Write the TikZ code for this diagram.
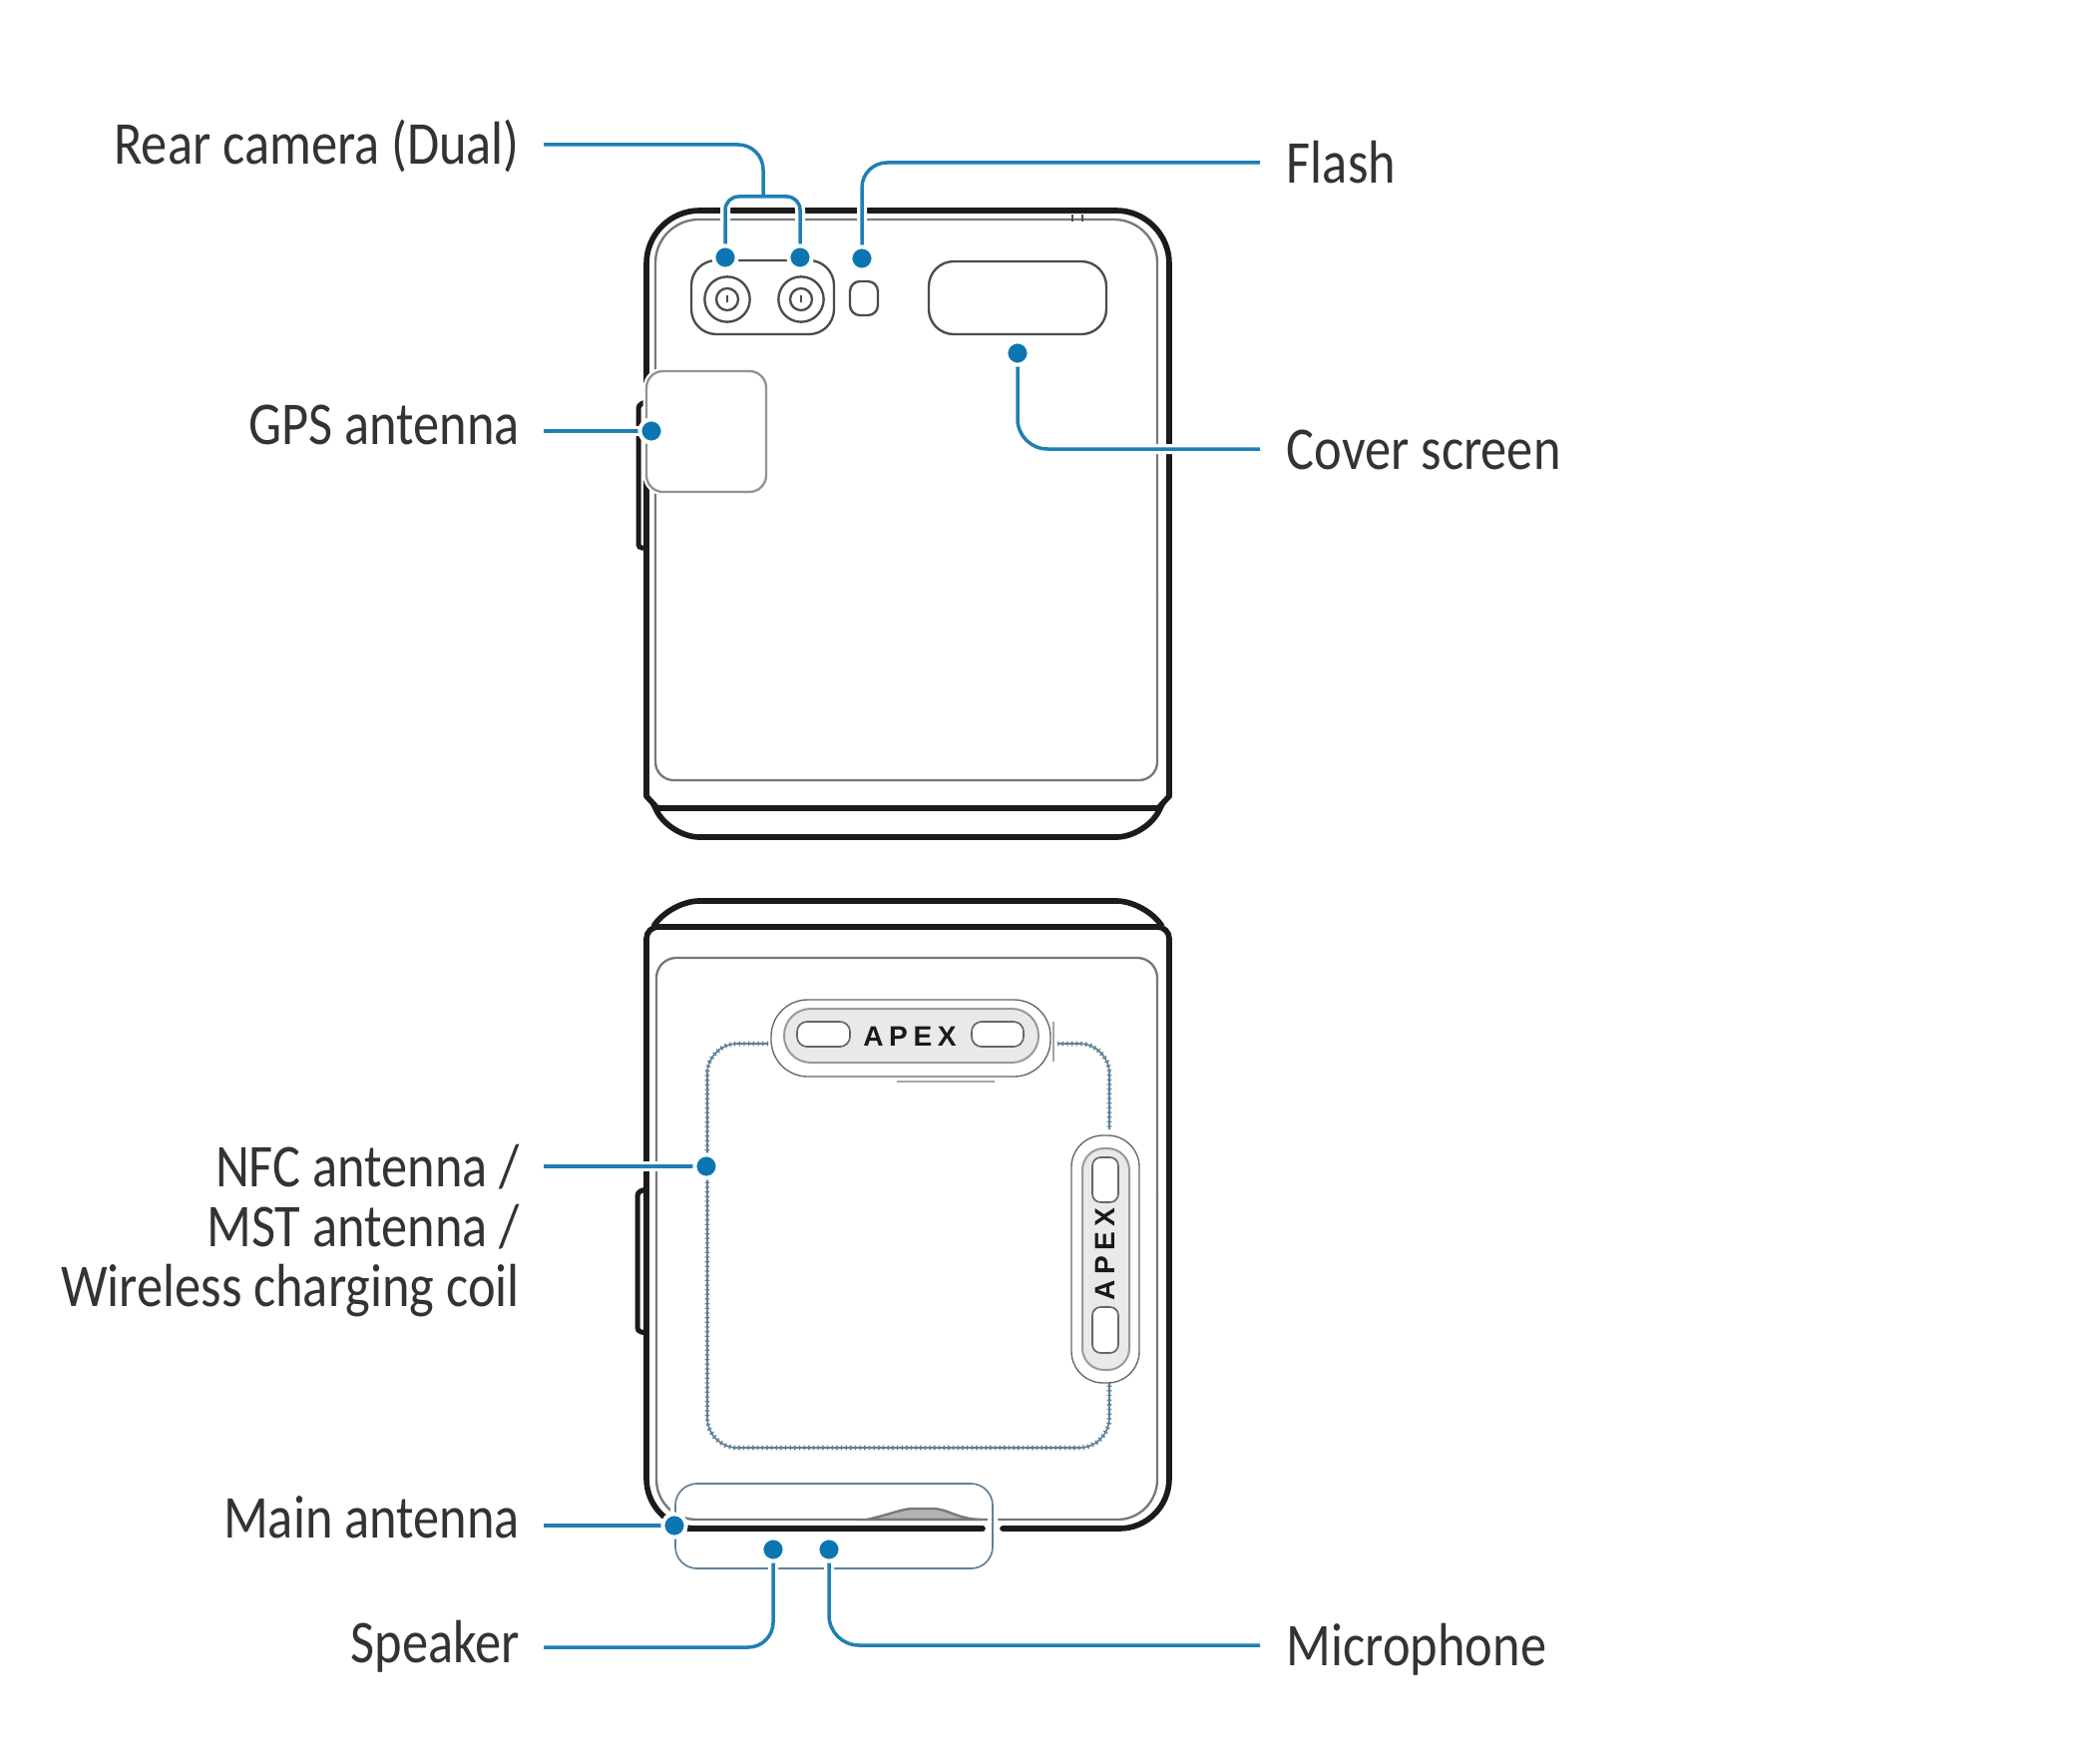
\documentclass[tikz,border=0pt]{standalone}
\usepackage{fontspec}
\setmainfont[FakeStretch=0.86]{Carlito}
\newfontfamily\logofont[LetterSpace=20]{Liberation Sans}
\definecolor{ledblue}{HTML}{1F7FB3}
\definecolor{dotblue}{HTML}{0B76B2}
\definecolor{inkdark}{HTML}{1E1A1C}
\definecolor{inkgrey}{HTML}{77787A}
\definecolor{coilblue}{HTML}{5F8098}
\definecolor{pillgrey}{HTML}{E9E9E9}
\pgfdeclarelayer{dots}
\pgfsetlayers{main,dots}
\tikzset{
lbl/.style={text=black!80,font=\fontsize{52}{60}\selectfont,text height=1.2cm,text depth=0pt,inner ysep=0pt,inner xsep=0.8cm},
lblr/.style={lbl,anchor=west},
lbll/.style={lbl,anchor=east},
leader/.style={draw=ledblue,line width=0.105cm,preaction={draw=white,line width=0.3cm}},
dot/.style={circle,fill=dotblue,draw=white,line width=0.12cm,minimum size=0.7cm,inner sep=0pt},
shell/.style={draw=inkdark,line width=0.17cm,line cap=round},
trim/.style={draw=inkgrey,line width=0.07cm},
part/.style={draw=black!70,line width=0.07cm},
coil/.style={draw=coilblue,line width=0.05cm,preaction={draw=coilblue,line width=0.14cm,dash pattern=on 0.04cm off 0.1cm}},
logo/.style={font=\logofont\bfseries\fontsize{24}{24}\selectfont,text=black!90,inner sep=0pt}
}
\begin{document}
\begin{tikzpicture}[x=0.03cm,y=-0.03cm]
\useasboundingbox(0,0)rectangle(2088,1768);
\draw[shell,rounded corners=1.6cm](648,798)|-(1172,211)--(1172,798);
\draw[shell](648,798)--(659,810)--(1161,810)--(1172,798);
\draw[shell,rounded corners=0.9cm](655,806)--(671,839)--(1149,839)--(1165,806);
\draw[trim,rounded corners=1.3cm](657,600)--(657,220)--(1160,220)--(1160,600);
\draw[trim,rounded corners=0.55cm](657,600)--(657,782)--(1160,782)--(1160,600);
\draw[draw=black!70,line width=0.04cm](1075,215)--(1075,222)(1085,215)--(1085,222);
\draw[shell,line width=0.15cm,rounded corners=0.1cm](647,403)--(640,406)--(640,549)--(647,549);
\draw[part,fill=white,rounded corners=0.75cm](693,261)rectangle(836,335);
\foreach \cx in {729,803}{
\draw[part](\cx,300)circle(0.68cm);
\draw[part](\cx,300)circle(0.33cm);
\draw[part,line width=0.05cm](\cx,296)--(\cx,303);
}
\draw[part,rounded corners=0.3cm](852,282)rectangle(880,316);
\draw[part,rounded corners=0.75cm](931,262)rectangle(1109,335);
\draw[draw=inkgrey!80,line width=0.07cm,fill=white,preaction={draw=white,line width=0.2cm},rounded corners=0.5cm](648,372)rectangle(768,493);
\draw[shell,rounded corners=0.35cm](648,946)|-(1172,929)--(1172,946);
\draw[shell,rounded corners=0.9cm](656,927)--(671,903)--(1149,903)--(1164,927);
\draw[shell,rounded corners=1.5cm](648,941)--(648,1532)--(670,1532);
\draw[shell](985,1532)--(695,1532);
\draw[shell,rounded corners=1.5cm](1005,1532)--(1172,1532)--(1172,941);
\draw[trim,fill=black!30](869,1523)..controls(895,1517)and(905,1512)..(915,1512)--(935,1512)..controls(950,1512)and(960,1523)..(985,1523)--cycle;
\draw[trim,rounded corners=0.6cm](658,1200)--(658,960)--(1160,960)--(1160,1200);
\draw[trim,rounded corners=1.2cm](658,1200)--(658,1523)--(1160,1523)--(1160,1200);
\draw[shell,line width=0.15cm,rounded corners=0.1cm](647,1192)--(639,1195)--(639,1334)--(647,1336);
\draw[coil,rounded corners=0.9cm](770,1046)-|(709,1451)-|(1112,1386);
\draw[coil,rounded corners=0.9cm](1060,1046)-|(1112,1132);
\draw[draw=black!60,line width=0.04cm,fill=white,rounded corners=1.1cm](773,1002)rectangle(1053,1079);
\draw[draw=black!40,line width=0.06cm,fill=pillgrey,rounded corners=0.8cm](786,1011)rectangle(1041,1065);
\draw[draw=black!60,line width=0.05cm,fill=white,rounded corners=0.3cm](799,1024)rectangle(852,1049);
\draw[draw=black!60,line width=0.05cm,fill=white,rounded corners=0.3cm](974,1024)rectangle(1026,1049);
\node[logo](logotop)at(912,1039){APEX};
\draw[draw=black!35,line width=0.04cm](899,1084)--(997,1084)(1056,1024)--(1056,1064);
\draw[draw=black!60,line width=0.04cm,fill=white,rounded corners=0.95cm](1074,1138)rectangle(1142,1386);
\draw[draw=black!40,line width=0.06cm,fill=pillgrey,rounded corners=0.65cm](1085,1151)rectangle(1132,1373);
\draw[draw=black!60,line width=0.05cm,fill=white,rounded corners=0.25cm](1095,1160)rectangle(1121,1205);
\draw[draw=black!60,line width=0.05cm,fill=white,rounded corners=0.25cm](1095,1310)rectangle(1121,1356);
\node[logo,rotate=90](logoside)at(1108,1257){APEX};
\draw[coil,preaction={draw=white,line width=0.3cm},rounded corners=0.65cm](677,1529)|-(995,1487)|-(677,1572)--cycle;
\node[lbll,inner xsep=0.72cm](rearcam)at(545,145){Rear camera (Dual)};
\node[lblr](flash)at(1263,163){Flash};
\node[lbll,inner xsep=0.72cm,text depth=0.42cm](gps)at(545,432){GPS antenna};
\node[lblr](cover)at(1263,450){Cover screen};
\node[lbll,inner xsep=0.72cm](nfc)at(545,1169){NFC antenna /};
\node[lbll,inner xsep=0.72cm](mst)at(545,1229){MST antenna /};
\node[lbll,inner xsep=0.72cm](coilcharge)at(545,1289){Wireless charging coil};
\node[lbll,inner xsep=0.72cm,text depth=0.48cm](mainant)at(545,1529){Main antenna};
\node[lbll,inner xsep=0.72cm,text depth=0.3cm](speaker)at(545,1651){Speaker};
\node[lblr](micro)at(1263,1649){Microphone};
\coordinate(rearj)at(765,197);
\begin{pgfonlayer}{dots}
\node[dot](dleft)at(727,258){};
\node[dot](dright)at(802,258){};
\node[dot](dflash)at(864,259){};
\node[dot](dcover)at(1020,354){};
\node[dot](dgps)at(653,432){};
\node[dot](dnfc)at(708,1169){};
\node[dot](dmain)at(676,1529){};
\node[dot](dspeaker)at(775,1553){};
\node[dot](dmicro)at(831,1553){};
\end{pgfonlayer}
\draw[leader,rounded corners=0.75cm](rearcam.east)-|(rearj)[rounded corners=0.4cm](dleft.center)|-(rearj)-|(dright.center);
\draw[leader,rounded corners=0.75cm](flash.west)-|(dflash.center);
\draw[leader,rounded corners=0.9cm](cover.west)-|(dcover.center);
\draw[leader](gps.east)--(dgps.center);
\draw[leader](nfc.east)--(dnfc.center);
\draw[leader](mainant.east)--(dmain.center);
\draw[leader,rounded corners=0.75cm](speaker.east)-|(dspeaker.center);
\draw[leader,rounded corners=0.9cm](micro.west)-|(dmicro.center);
\end{tikzpicture}
\end{document}
